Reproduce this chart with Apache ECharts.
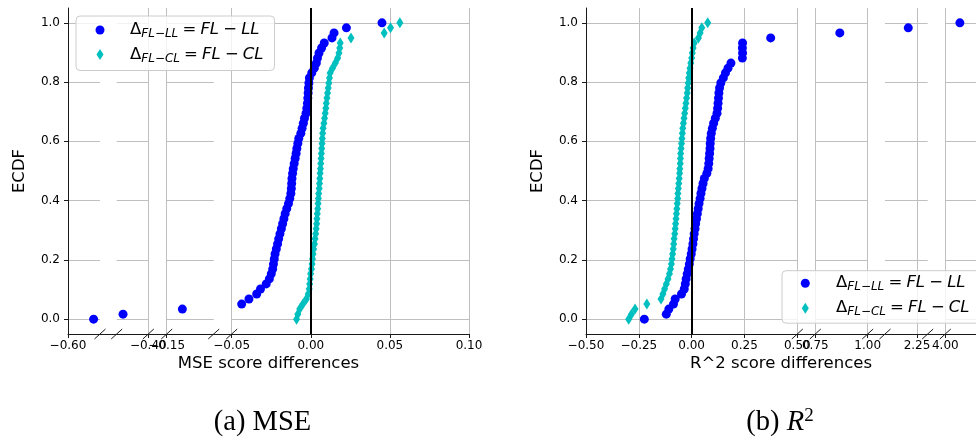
<!DOCTYPE html>
<html><head><meta charset="utf-8">
<script src="https://cdn.jsdelivr.net/npm/echarts@6/dist/echarts.min.js"></script>
<style>html,body{margin:0;padding:0;background:#fff}#c{width:976px;height:441px}</style>
</head><body><div id="c"></div>
<script>
// ---------------- data ----------------
const ecdfLevels = [0.000,0.017,0.034,0.051,0.068,0.085,0.102,0.119,0.136,0.153,
  0.169,0.186,0.203,0.220,0.237,0.254,0.271,0.288,0.305,0.322,
  0.339,0.356,0.373,0.390,0.407,0.424,0.441,0.458,0.475,0.492,
  0.508,0.525,0.542,0.559,0.576,0.593,0.610,0.627,0.644,0.661,
  0.678,0.695,0.712,0.729,0.746,0.763,0.780,0.797,0.814,0.831,
  0.847,0.864,0.881,0.898,0.915,0.932,0.949,0.966,0.983,1.000];

const mseFLLL = [-0.584,-0.416,-0.140,-0.0437,-0.0391,-0.0342,-0.0318,-0.0282,-0.0262,-0.0250,
  -0.0241,-0.0236,-0.0231,-0.0226,-0.0218,-0.0210,-0.0203,-0.0195,-0.0186,-0.0178,
  -0.0170,-0.0162,-0.0152,-0.0141,-0.0133,-0.0126,-0.0123,-0.0121,-0.0119,-0.0115,
  -0.0111,-0.0105,-0.0099,-0.0093,-0.0088,-0.0082,-0.0076,-0.0063,-0.0055,-0.0047,
  -0.0040,-0.0030,-0.0025,-0.0021,-0.0019,-0.0017,-0.0015,-0.0012,-0.0009,0.0006,
  0.0022,0.0035,0.0042,0.0052,0.0068,0.0085,0.0134,0.0147,0.0225,0.0450];

const mseFLCL = [-0.0090,-0.0082,-0.0070,-0.0050,-0.0028,-0.0016,-0.0010,-0.0007,-0.0004,-0.0001,
  0.0004,0.0008,0.0011,0.0014,0.0018,0.0023,0.0027,0.0031,0.0034,0.0037,
  0.0039,0.0041,0.0044,0.0046,0.0048,0.0050,0.0053,0.0055,0.0057,0.0059,
  0.0061,0.0063,0.0065,0.0067,0.0069,0.0071,0.0073,0.0075,0.0078,0.0083,
  0.0087,0.0091,0.0095,0.0098,0.0102,0.0106,0.0110,0.0114,0.0118,0.0122,
  0.0137,0.0155,0.0170,0.0178,0.0183,0.0186,0.0254,0.0464,0.0504,0.0563];

const r2FLLL = [-0.224,-0.120,-0.108,-0.086,-0.078,-0.048,-0.035,-0.030,-0.026,-0.021,
  -0.016,-0.011,-0.007,-0.002,0.002,0.006,0.009,0.012,0.016,0.019,
  0.023,0.027,0.031,0.035,0.040,0.044,0.049,0.054,0.060,0.072,
  0.078,0.081,0.083,0.085,0.087,0.088,0.090,0.093,0.098,0.104,
  0.112,0.120,0.123,0.125,0.127,0.129,0.132,0.138,0.150,0.160,
  0.172,0.186,0.240,0.241,0.240,0.241,0.374,0.867,2.209,4.095];

const r2FLCL = [-0.298,-0.285,-0.268,-0.212,-0.145,-0.136,-0.128,-0.120,-0.112,-0.105,
  -0.100,-0.096,-0.093,-0.090,-0.087,-0.085,-0.083,-0.080,-0.078,-0.076,
  -0.074,-0.072,-0.070,-0.068,-0.066,-0.065,-0.063,-0.061,-0.059,-0.057,
  -0.056,-0.054,-0.053,-0.052,-0.050,-0.048,-0.046,-0.044,-0.042,-0.039,
  -0.036,-0.033,-0.030,-0.027,-0.024,-0.021,-0.019,-0.016,-0.014,-0.011,
  -0.008,-0.004,0.000,0.003,0.007,0.012,0.032,0.040,0.048,0.076];

const mseSegments = [[-0.60,-0.58],[-0.42,-0.40],[-0.15,-0.12],[-0.05,0.10]];
const mseTickValues = [[-0.60],[-0.40],[-0.15],[-0.05,0.00,0.05,0.10]];
const r2Segments = [[-0.5,0.5],[0.75,1.0],[2.1,2.3],[4.0,4.2]];
const r2TickValues = [[-0.50,-0.25,0.00,0.25,0.50],[0.75,1.00],[2.25],[4.00]];
const ecdfRange = [-0.05,1.05];
const ecdfTickValues = [0.0,0.2,0.4,0.6,0.8,1.0];
const seriesNames = ['FL-LL','FL-CL'];
const xAxisNames = ['MSE score differences','R^2 score differences'];
const yAxisName = 'ECDF';

// ---------------- layout / style ----------------
const PLOT_TOP = 8, PLOT_H = 326;
const FONT = 'DejaVu Sans';
const GRID_COLOR = '#bfbfbf';
const SPINE_COLOR = '#1a1a1a';
const BLUE = '#0000ff', CYAN = '#00bfbf';
const DIAMOND = 'path://M3.5,0L7,5.5L3.5,11L0,5.5Z';
const panels = [
  {segs: mseSegments, ticks: mseTickValues, ll: mseFLLL, cl: mseFLCL, xName: xAxisNames[0],
   boxes: [[68,32],[116.7,31.6],[166.7,47],[231.7,237.3]], spine: [68,401]},
  {segs: r2Segments, ticks: r2TickValues, ll: r2FLLL, cl: r2FLCL, xName: xAxisNames[1],
   boxes: [[586,211.3],[815.3,52.4],[885,42.7],[945.3,42.3]], spine: [586,401.6]}
];

const fmtX = v => (v < 0 ? '\u2212' : '') + Math.abs(v).toFixed(2);
const fmtY = v => (v < 0 ? '\u2212' : '') + Math.abs(v).toFixed(1);

const grid = [], xAxis = [], yAxis = [], series = [];
panels.forEach((p, pi) => {
  p.segs.forEach((seg, k) => {
    const g = grid.length;
    grid.push({left: p.boxes[k][0], width: p.boxes[k][1], top: PLOT_TOP, height: PLOT_H, containLabel: false});
    xAxis.push({
      gridIndex: g, type: 'value', min: seg[0], max: seg[1],
      axisLine: {show: false, onZero: false},
      axisTick: {show: true, customValues: p.ticks[k], length: 4, lineStyle: {color: SPINE_COLOR, width: 1}},
      axisLabel: {customValues: p.ticks[k], formatter: fmtX, margin: 6, fontFamily: FONT, fontSize: 12, color: '#000'},
      splitLine: {show: true, lineStyle: {color: GRID_COLOR, width: 1}}
    });
    yAxis.push({
      gridIndex: g, type: 'value', min: ecdfRange[0], max: ecdfRange[1],
      axisLine: {show: k === 0, onZero: false, lineStyle: {color: SPINE_COLOR, width: 1}},
      axisTick: {show: k === 0, customValues: ecdfTickValues, length: 4, lineStyle: {color: SPINE_COLOR, width: 1}},
      axisLabel: {show: k === 0, customValues: ecdfTickValues, formatter: fmtY, margin: 8, fontFamily: FONT, fontSize: 12, color: '#000'},
      splitLine: {show: true, lineStyle: {color: GRID_COLOR, width: 1}},
      name: k === 0 ? yAxisName : '', nameLocation: 'middle', nameGap: 40,
      nameTextStyle: {fontFamily: FONT, fontSize: 16.5, color: '#000'}
    });
    const inSeg = v => v >= seg[0] && v <= seg[1];
    series.push({
      type: 'scatter', name: seriesNames[0], xAxisIndex: g, yAxisIndex: g,
      symbol: 'circle', symbolSize: 9, itemStyle: {color: BLUE, opacity: 1}, z: 3,
      data: p.ll.map((v, i) => [v, ecdfLevels[i]]).filter(d => inSeg(d[0]))
    });
    series.push({
      type: 'scatter', name: seriesNames[1], xAxisIndex: g, yAxisIndex: g,
      symbol: DIAMOND, symbolSize: [7, 11], itemStyle: {color: CYAN, opacity: 1}, z: 3,
      data: p.cl.map((v, i) => [v, ecdfLevels[i]]).filter(d => inSeg(d[0]))
    });
    // vertical zero reference line
    if (inSeg(0)) {
      series.push({
        type: 'scatter', xAxisIndex: g, yAxisIndex: g, data: [], z: 5, silent: true,
        markLine: {silent: true, symbol: ['none', 'none'], label: {show: false}, z: 5,
          lineStyle: {color: '#000', width: 2, type: 'solid'}, data: [{xAxis: 0}]}
      });
    }
    // break marks at inner segment edges
    const edges = [];
    if (k > 0) edges.push([seg[0], ecdfRange[0]]);
    if (k < p.segs.length - 1) edges.push([seg[1], ecdfRange[0]]);
    series.push({
      type: 'custom', xAxisIndex: g, yAxisIndex: g, silent: true, clip: false, z: 6,
      data: edges,
      renderItem: (params, api) => {
        const c = api.coord([api.value(0), api.value(1)]);
        return {type: 'line', shape: {x1: c[0] - 5.5, y1: c[1] + 5, x2: c[0] + 5.5, y2: c[1] - 5},
                style: {stroke: SPINE_COLOR, lineWidth: 1}};
      }
    });
  });
  // continuous bottom spine + axis name for the panel
  const g = grid.length;
  grid.push({left: p.spine[0], width: p.spine[1], top: PLOT_TOP, height: PLOT_H});
  xAxis.push({
    gridIndex: g, type: 'value', min: 0, max: 1,
    axisLine: {show: true, onZero: false, lineStyle: {color: SPINE_COLOR, width: 1}},
    axisTick: {show: false}, axisLabel: {show: false}, splitLine: {show: false},
    name: p.xName, nameLocation: 'middle', nameGap: 21,
    nameTextStyle: {fontFamily: FONT, fontSize: 16.5, color: '#000'}
  });
  yAxis.push({gridIndex: g, type: 'value', min: 0, max: 1, show: false});
});

const SP = '\u2005';
const richMain = {
  d: {fontFamily: FONT, fontSize: 16.5, lineHeight: 20, color: '#000'},
  s: {fontFamily: FONT, fontStyle: 'italic', fontSize: 12, lineHeight: 13, verticalAlign: 'bottom', color: '#000'},
  n: {fontFamily: FONT, fontSize: 16.5, lineHeight: 20, color: '#000'},
  i: {fontFamily: FONT, fontStyle: 'italic', fontSize: 16.5, lineHeight: 20, color: '#000'}
};
const legendFormatter = name => name === seriesNames[0]
  ? '{d|\u0394}{s|FL\u2212LL}{n|' + SP + '=' + SP + '}{i|FL}{n|' + SP + '\u2212' + SP + '}{i|LL}'
  : '{d|\u0394}{s|FL\u2212CL}{n|' + SP + '=' + SP + '}{i|FL}{n|' + SP + '\u2212' + SP + '}{i|CL}';
const legendBase = {
  orient: 'vertical', itemWidth: 9, itemHeight: 11, selectedMode: false,
  backgroundColor: 'rgba(255,255,255,0.8)', borderColor: '#cccccc', borderWidth: 1, borderRadius: 4,
  formatter: legendFormatter, z: 10,
  data: [{name: seriesNames[0], icon: 'circle'}, {name: seriesNames[1], icon: DIAMOND}]
};

const option = {
  animation: false,
  backgroundColor: '#fff',
  grid, xAxis, yAxis, series,
  legend: [
    Object.assign({}, legendBase, {left: 76, top: 16, itemGap: 6, padding: [5.5, 11, 6, 19.5],
      textStyle: {padding: [0, 0, 0, 20.5], rich: richMain}}),
    Object.assign({}, legendBase, {left: 782, top: 270.7, itemGap: 6.5, padding: [4, 11, 5, 18.8],
      textStyle: {padding: [0, 0, 0, 21.2], rich: richMain}})
  ],
  graphic: [
    {type: 'text', x: 262.5, y: 423, silent: true,
     style: {text: '(a) MSE', fontFamily: 'Liberation Serif', fontSize: 28.5, fill: '#000',
             align: 'center', verticalAlign: 'middle', textAlign: 'center', textVerticalAlign: 'middle'}},
    {type: 'text', x: 780, y: 423, silent: true,
     style: {text: '{r|(b) }{it|R}{sup|2}', fill: '#000',
             align: 'center', verticalAlign: 'middle', textAlign: 'center', textVerticalAlign: 'middle',
             rich: {
               r: {fontFamily: 'Liberation Serif', fontSize: 28.5, lineHeight: 32, fill: '#000'},
               it: {fontFamily: 'Liberation Serif', fontStyle: 'italic', fontSize: 28.5, lineHeight: 32, fill: '#000'},
               sup: {fontFamily: 'Liberation Serif', fontSize: 19, lineHeight: 20, verticalAlign: 'top', fill: '#000'}
             }}}
  ]
};

const chart = echarts.init(document.getElementById('c'), null, {renderer: 'canvas'});
chart.setOption(option);
</script>
</body></html>
